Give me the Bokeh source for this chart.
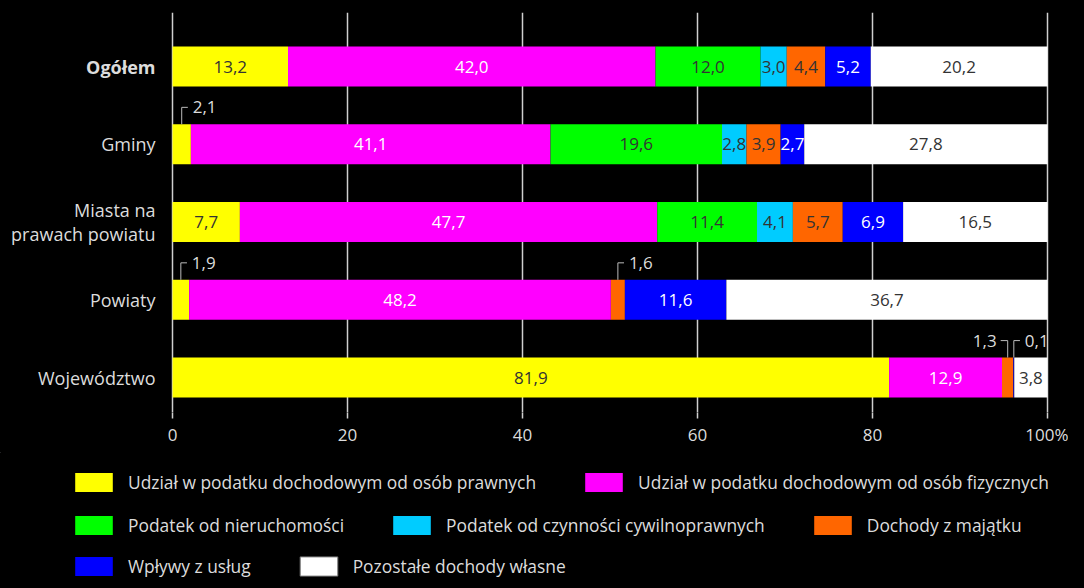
import numpy as np
from bokeh.plotting import figure
from bokeh.layouts import column
from bokeh.models import ColumnDataSource, FixedTicker, Legend, LegendItem, GlobalInlineStyleSheet
from bokeh.embed import file_html
from bokeh.resources import INLINE
from bokeh.core.properties import value

# ---------------- data ----------------
categories = ["Ogółem", "Gminy", "Miasta na\nprawach powiatu", "Powiaty", "Województwo"]
series = [
    "Udział w podatku dochodowym od osób prawnych",
    "Udział w podatku dochodowym od osób fizycznych",
    "Podatek od nieruchomości",
    "Podatek od czynności cywilnoprawnych",
    "Dochody z majątku",
    "Wpływy z usług",
    "Pozostałe dochody własne",
]
cit = [13.2, 2.1, 7.7, 1.9, 81.9]
pit = [42.0, 41.1, 47.7, 48.2, 12.9]
nieruchomosci = [12.0, 19.6, 11.4, 0.0, 0.0]
czynnosci = [3.0, 2.8, 4.1, 0.0, 0.0]
majatek = [4.4, 3.9, 5.7, 1.6, 1.3]
uslugi = [5.2, 2.7, 6.9, 11.6, 0.1]
pozostale = [20.2, 27.8, 16.5, 36.7, 3.8]
x_ticks = [0, 20, 40, 60, 80, 100]
x_tick_labels = ["0", "20", "40", "60", "80", "100%"]

# ---------------- styles ----------------
colors = ["#ffff00", "#ff00ff", "#00ff00", "#00ccff", "#ff6600", "#0000ff", "#ffffff"]
text_colors = ["#333333", "#ffffff", "#333333", "#333333", "#333333", "#ffffff", "#333333"]
legend_rows = [[0, 1], [2, 3, 4], [5, 6]]
legend_bottoms = [86, 43, 2]
FONT = "Open Sans"
TXT = "#dcdcdc"
GRID = "#cfcfcf"
BAR_H = 0.514
W = 1068
BLACK = {"background-color": "black"}

values = [cit, pit, nieruchomosci, czynnosci, majatek, uslugi, pozostale]
n = len(categories)
ypos = [n - 1 - i for i in range(n)]

data = {"y": ypos}
keys = [f"s{k}" for k in range(len(series))]
for k, v in zip(keys, values):
    data[k] = v
src = ColumnDataSource(data)

# ---------------- chart ----------------
p = figure(
    frame_width=W, frame_height=400,
    x_range=(-19.66, 102.4), y_range=(-0.45, 4.695),
    output_backend="svg", toolbar_location=None,
    background_fill_color="black", border_fill_color="black",
    outline_line_color=None, styles=BLACK,
    min_border_left=0, min_border_right=0, min_border_top=12, min_border_bottom=40,
)
p.yaxis.visible = False

bars = p.hbar_stack(keys, y="y", height=BAR_H, color=colors, line_color=None, source=src)

p.ygrid.visible = False
p.xgrid.ticker = FixedTicker(ticks=x_ticks)
p.xgrid.grid_line_color = GRID
p.xgrid.grid_line_width = 1.5

p.xaxis.ticker = FixedTicker(ticks=x_ticks)
p.xaxis.major_label_overrides = {t: l for t, l in zip(x_ticks, x_tick_labels)}
p.xaxis.axis_line_color = None
p.xaxis.major_tick_line_color = GRID
p.xaxis.major_tick_line_width = 1.5
p.xaxis.major_tick_out = 6
p.xaxis.major_tick_in = 0
p.xaxis.minor_tick_line_color = None
p.xaxis.major_label_text_color = TXT
p.xaxis.major_label_text_font = FONT
p.xaxis.major_label_text_font_size = "17px"
p.xaxis.major_label_standoff = 4

# category labels (first one bold)
p.text(x=[0], y=ypos[:1], text=categories[:1], x_offset=-17, text_align="right",
       text_baseline="middle", text_color=TXT, text_font=value(FONT),
       text_font_size="18px", text_font_style="bold")
p.text(x=[0] * (n - 1), y=ypos[1:], text=categories[1:], x_offset=-17, text_align="right",
       text_baseline="middle", text_color=TXT, text_font=value(FONT),
       text_font_size="18px", text_line_height=1.0)

def fmt(v):
    return f"{v:.1f}".replace(".", ",")

in_x, in_y, in_t, in_c = [], [], [], []
cr_x, cr_y, cr_t = [], [], []
cl_x, cl_y, cl_t = [], [], []
lines_x, lines_y = [], []
for i in range(n):
    row = [vals[i] for vals in values]
    left = np.concatenate([[0], np.cumsum(row)[:-1]])
    for k, v in enumerate(row):
        if v <= 0:
            continue
        cx = left[k] + v / 2
        y = ypos[i]
        if v >= 2.5:
            in_x.append(cx); in_y.append(y); in_t.append(fmt(v)); in_c.append(text_colors[k])
        else:
            nxt = [w for w in row[k + 1:] if w > 0]
            go_left = len(nxt) > 0 and nxt[0] < 2.5
            ytop = y + 0.475
            if go_left:
                lines_x.append([cx, cx, cx - 0.8]); lines_y.append([y + BAR_H / 2, ytop, ytop])
                cl_x.append(cx); cl_y.append(ytop); cl_t.append(fmt(v))
            else:
                lines_x.append([cx, cx, cx + 0.7]); lines_y.append([y + BAR_H / 2, ytop, ytop])
                cr_x.append(cx); cr_y.append(ytop); cr_t.append(fmt(v))

p.text(x=in_x, y=in_y, text=in_t, text_color=in_c, text_align="center", text_baseline="middle",
       text_font=value(FONT), text_font_size="17px")
p.multi_line(xs=lines_x, ys=lines_y, line_color="#bbbbbb", line_width=1)
p.text(x=cr_x, y=cr_y, text=cr_t, x_offset=11, text_color=TXT, text_align="left",
       text_baseline="middle", text_font=value(FONT), text_font_size="17px")
p.text(x=cl_x, y=cl_y, text=cl_t, x_offset=-11, text_color=TXT, text_align="right",
       text_baseline="middle", text_font=value(FONT), text_font_size="17px")

# ---------------- legend panel ----------------
q = figure(
    frame_width=W, frame_height=128, x_range=(0, 1), y_range=(0, 1),
    x_axis_type=None, y_axis_type=None,
    output_backend="svg", toolbar_location=None,
    background_fill_color="black", border_fill_color="black",
    outline_line_color=None, styles=BLACK,
    min_border_left=0, min_border_right=0, min_border_top=0, min_border_bottom=0,
)
# swatch renderers: their bars lie outside the visible range, only the legend shows them
swatches = [q.hbar(y=[10], left=[0], right=[0.1], height=0.5, fill_color=c,
                   line_color="#777777" if c == "#ffffff" else None)
            for c in colors]
# black strip over the panel's top edge
q.quad(left=[0], right=[1], bottom=[0.96], top=[1.02], fill_color="black",
       line_color=None, level="overlay")

for idx, bottom in zip(legend_rows, legend_bottoms):
    leg = Legend(
        items=[LegendItem(label=series[k], renderers=[swatches[k]]) for k in idx],
        location=(70, bottom), orientation="horizontal",
        glyph_width=47, glyph_height=24, label_standoff=11, spacing=44,
        padding=0, margin=0, background_fill_alpha=0, border_line_color=None,
        label_text_color=TXT, label_text_font=FONT, label_text_font_size="17.4px",
    )
    q.add_layout(leg)

layout = column(p, q, spacing=0, styles=BLACK,
                stylesheets=[GlobalInlineStyleSheet(css="html, body { background-color: black; }")])
open("out.html", "w").write(file_html(layout, INLINE))
